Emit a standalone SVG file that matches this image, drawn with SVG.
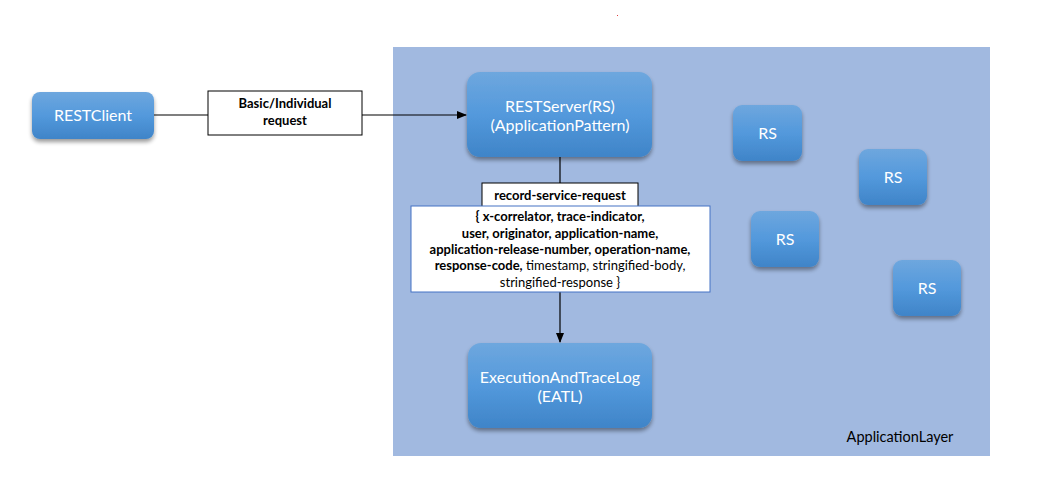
<svg xmlns="http://www.w3.org/2000/svg" width="1037" height="497" viewBox="0 0 1037 497">
<style>
.node{fill:url(#g);filter:url(#sh)}
.nt{font-family:Lato,"Liberation Sans",sans-serif;font-size:16px;fill:#fff;text-anchor:middle}
.lb{font-family:Lato,"Liberation Sans",sans-serif;font-size:13px;fill:#000;text-anchor:middle}
.b{font-weight:bold}
.ln{stroke:#000;stroke-width:1.2;fill:none}
</style>
<defs>
<linearGradient id="g" x1="0" y1="0" x2="0" y2="1">
<stop offset="0" stop-color="#6ea7de"/>
<stop offset="0.5" stop-color="#5399dc"/>
<stop offset="1" stop-color="#3f84c8"/>
</linearGradient>
<filter id="sh" x="-20%" y="-20%" width="140%" height="150%">
<feGaussianBlur in="SourceAlpha" stdDeviation="2"/>
<feOffset dy="3" result="o"/>
<feComponentTransfer><feFuncA type="linear" slope="0.4"/></feComponentTransfer>
<feMerge><feMergeNode/><feMergeNode in="SourceGraphic"/></feMerge>
</filter>
<marker id="ar" markerWidth="10" markerHeight="8" refX="9" refY="4" orient="auto" markerUnits="userSpaceOnUse">
<path d="M0,0 L10,4 L0,8 z" fill="#000"/>
</marker>
</defs>
<rect width="1037" height="497" fill="#fff"/>
<rect x="617" y="15" width="1" height="1" fill="#e04040"/>
<g id="ApplicationLayer">
<rect x="393" y="47" width="597" height="409" fill="#a1b9e0"/>
<text x="900" y="442" font-family="Lato,'Liberation Sans',sans-serif" font-size="14.5px" fill="#000" text-anchor="middle">ApplicationLayer</text>
</g>
<g id="connectors">
<path class="ln" d="M154,115 H208"/>
<path class="ln" d="M362,115 H466" marker-end="url(#ar)"/>
<path class="ln" d="M560,157 V183"/>
<path class="ln" d="M560,292 V342" marker-end="url(#ar)"/>
</g>
<g id="label-basic">
<rect x="208" y="91" width="154" height="44" fill="#fff" stroke="#000" stroke-width="1"/>
<text class="lb b" x="285" y="108">Basic/Individual</text>
<text class="lb b" x="285" y="125">request</text>
</g>
<g id="label-rsr">
<rect x="482" y="183" width="156" height="24" fill="#fff" stroke="#000" stroke-width="1"/>
<text class="lb b" x="560" y="199.5">record-service-request</text>
</g>
<g id="label-params">
<rect x="411" y="206" width="299" height="86" fill="#fff" stroke="#4472c4" stroke-width="1"/>
<text class="lb b" x="560" y="221">{ x-correlator, trace-indicator,</text>
<text class="lb b" x="560" y="237.5">user, originator, application-name,</text>
<text class="lb b" x="560" y="254">application-release-number, operation-name,</text>
<text class="lb" x="560" y="270"><tspan class="b">response-code,</tspan> timestamp, stringified-body,</text>
<text class="lb" x="560" y="287">stringified-response }</text>
</g>
<g id="RESTClient">
<rect class="node" x="32" y="92" width="122" height="47" rx="8"/>
<text class="nt" x="93" y="121">RESTClient</text>
</g>
<g id="RESTServer">
<rect class="node" x="467" y="72" width="185" height="85" rx="13"/>
<text class="nt" x="560" y="112">RESTServer(RS)</text>
<text class="nt" x="560" y="131">(ApplicationPattern)</text>
</g>
<g id="EATL">
<rect class="node" x="468" y="343" width="184" height="85" rx="13"/>
<text class="nt" x="560" y="383">ExecutionAndTraceLog</text>
<text class="nt" x="560" y="402">(EATL)</text>
</g>
<g id="RS1">
<rect class="node" x="733" y="105" width="69" height="56" rx="9"/>
<text class="nt" x="767.5" y="139">RS</text>
</g>
<g id="RS2">
<rect class="node" x="859" y="149" width="68" height="56" rx="9"/>
<text class="nt" x="893" y="183">RS</text>
</g>
<g id="RS3">
<rect class="node" x="751" y="211" width="68" height="56" rx="9"/>
<text class="nt" x="785" y="245">RS</text>
</g>
<g id="RS4">
<rect class="node" x="893" y="260" width="68" height="56" rx="9"/>
<text class="nt" x="927" y="294">RS</text>
</g>
</svg>
